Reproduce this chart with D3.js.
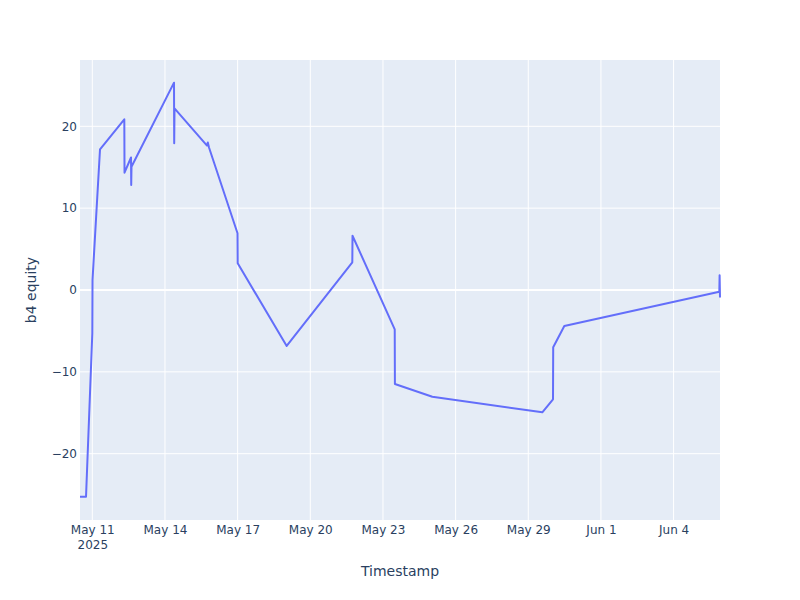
<!DOCTYPE html>
<html lang="en">
<head>
    <meta charset="UTF-8">
    <title>b4 equity</title>
    <script src="https://d3js.org/d3.v7.min.js"></script>
    <style>
        body { margin: 0; background: #fff; }
        text { font-family: "DejaVu Sans", verdana, arial, sans-serif; fill: #2a3f5f; }
    </style>
</head>
<body>
    <svg width="800" height="600"></svg>
    <script>
        // equity timestamps and values
        var timestamps = [
            "2025-05-10T11:48", "2025-05-10T17:46", "2025-05-11T00:00", "2025-05-11T00:12",
            "2025-05-11T07:38", "2025-05-12T07:42", "2025-05-12T07:55", "2025-05-12T14:21",
            "2025-05-12T14:33", "2025-05-12T14:50", "2025-05-14T08:57", "2025-05-14T09:09",
            "2025-05-14T09:27", "2025-05-15T17:40", "2025-05-15T18:27", "2025-05-15T19:38",
            "2025-05-16T23:53", "2025-05-17T00:04", "2025-05-19T00:37", "2025-05-21T17:38",
            "2025-05-21T17:50", "2025-05-23T11:40", "2025-05-23T11:51", "2025-05-25T00:55",
            "2025-05-29T13:55", "2025-05-30T00:30", "2025-05-30T00:42", "2025-05-30T11:43",
            "2025-06-05T21:19", "2025-06-05T21:36", "2025-06-05T21:59"
        ];
        var equity = [
            -25.25, -25.25, -5.29, 1.22,
            17.19, 20.86, 14.33, 16.19,
            12.83, 15.06, 25.33, 17.92,
            22.20, 17.65, 18.02, 17.41,
            6.93, 3.26, -6.84, 3.38,
            6.63, -4.80, -11.48, -13.04,
            -14.94, -13.35, -7.00, -4.40,
            -0.21, 1.80, -0.92
        ];
        var yTicks = [-20, -10, 0, 10, 20];
        var xTicks = ["2025-05-11", "2025-05-14", "2025-05-17", "2025-05-20", "2025-05-23",
                      "2025-05-26", "2025-05-29", "2025-06-01", "2025-06-04"];
        var yRange = [-28.1, 28.1];

        var parse = d3.timeParse("%Y-%m-%dT%H:%M");
        var parseDay = d3.timeParse("%Y-%m-%d");
        var data = timestamps.map(function(t, i) { return { t: parse(t), v: equity[i] }; });

        var plotL = 80, plotR = 720, plotT = 60, plotB = 520;
        var svg = d3.select("svg");

        var x = d3.scaleTime()
            .domain(d3.extent(data, d => d.t))
            .range([plotL, plotR]);
        var y = d3.scaleLinear()
            .domain(yRange)
            .range([plotB, plotT]);

        svg.append("rect")
            .attr("x", plotL).attr("y", plotT)
            .attr("width", plotR - plotL).attr("height", plotB - plotT)
            .style("fill", "#e5ecf6");

        // vertical grid
        svg.selectAll("line.xgrid")
            .data(xTicks.map(parseDay))
            .enter().append("line")
            .attr("class", "xgrid")
            .attr("x1", d => x(d)).attr("x2", d => x(d))
            .attr("y1", plotT).attr("y2", plotB)
            .style("stroke", "#fff")
            .style("stroke-width", 1);

        // horizontal grid, zero line thicker
        svg.selectAll("line.ygrid")
            .data(yTicks)
            .enter().append("line")
            .attr("class", "ygrid")
            .attr("x1", plotL).attr("x2", plotR)
            .attr("y1", d => y(d)).attr("y2", d => y(d))
            .style("stroke", "#fff")
            .style("stroke-width", d => d === 0 ? 2 : 1);

        var yAxis = svg.append("g")
            .attr("transform", "translate(" + plotL + ",0)")
            .call(d3.axisLeft(y).tickValues(yTicks).tickSize(0).tickPadding(3)
                .tickFormat(d => d < 0 ? "\u2212" + Math.abs(d) : d));
        yAxis.select(".domain").remove();
        yAxis.selectAll("text").style("font-size", "12px").style("fill", "#2a3f5f");

        var xAxis = svg.append("g")
            .attr("transform", "translate(0," + plotB + ")")
            .call(d3.axisBottom(x).tickValues(xTicks.map(parseDay)).tickSize(0).tickPadding(5)
                .tickFormat(d3.timeFormat("%b %-d")));
        xAxis.select(".domain").remove();
        xAxis.selectAll("text").style("font-size", "12px").style("fill", "#2a3f5f");
        xAxis.select(".tick text")
            .append("tspan")
            .attr("x", 0).attr("dy", "1.3em")
            .text("2025");

        var line = d3.line()
            .x(d => x(d.t))
            .y(d => y(d.v));

        svg.append("path")
            .datum(data)
            .attr("d", line)
            .style("fill", "none")
            .style("stroke", "#636efa")
            .style("stroke-width", 2)
            .style("stroke-linejoin", "round");

        svg.append("text")
            .attr("x", (plotL + plotR) / 2).attr("y", 576)
            .attr("text-anchor", "middle")
            .style("font-size", "14px")
            .text("Timestamp");

        svg.append("text")
            .attr("transform", "translate(36," + ((plotT + plotB) / 2) + ") rotate(-90)")
            .attr("text-anchor", "middle")
            .style("font-size", "14px")
            .text("b4 equity");
    </script>
</body>
</html>
